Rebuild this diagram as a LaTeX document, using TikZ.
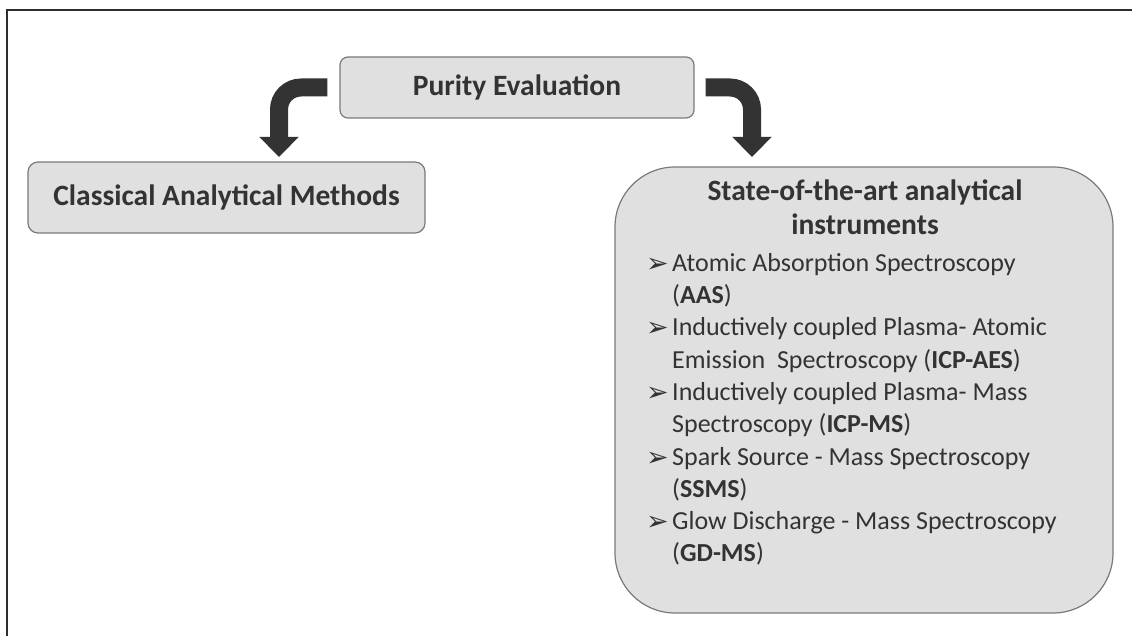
\documentclass[tikz,border=0pt]{standalone}
\usepackage{fontspec}
\setmainfont{Carlito}
\newfontfamily\dvfont{DejaVu Sans}
\usetikzlibrary{arrows.meta}
\definecolor{boxfill}{HTML}{E0E0E0}
\definecolor{boxline}{HTML}{7A7A7A}
\definecolor{txt}{HTML}{333333}
\definecolor{arrowc}{HTML}{333333}
\definecolor{framec}{HTML}{2E2E2E}
\newcommand{\bul}{\makebox[26pt][l]{\raisebox{-1pt}{\dvfont\fontsize{27}{27}\selectfont ➢}}}
\newcommand{\ind}{\hspace*{26pt}}
\begin{document}
\begin{tikzpicture}[x=1pt,y=-1pt,
  graybox/.style={draw=boxline, line width=1.2pt, fill=boxfill, text=txt, inner sep=0pt,
     font=\bfseries\fontsize{29.5}{34}\selectfont},
  bigarrow/.style={draw=arrowc, line width=18pt, rounded corners=22pt,
     -{Triangle[width=38pt,length=20pt]}},
  listtext/.style={text=txt, inner sep=0pt, align=left, font=\fontsize{26}{32.3}\selectfont},
  titletext/.style={text=txt, inner sep=0pt, align=center, font=\bfseries\fontsize{29.5}{34}\selectfont}]
\useasboundingbox (0,0) rectangle (1132,636);
\fill[white] (0,0) rectangle (1132,636);
\draw[line width=2pt, draw=framec] (7,636) -- (7,10) -- (1132,10);

\node[graybox, minimum width=354pt, minimum height=61pt, rounded corners=8pt] (pe) at (517,87.5) {Purity Evaluation};
\node[graybox, minimum width=397pt, minimum height=71pt, rounded corners=10pt] (cl) at (226.5,197.5) {Classical Analytical Methods};
\node[graybox, minimum width=498pt, minimum height=446pt, rounded corners=60pt] (rb) at (864,390) {};

\node[titletext, anchor=north] (tt) at (865,180) {State-of-the-art analytical\\instruments};
\node[listtext, anchor=north west] (ls) at (646,253) {%
\bul Atomic Absorption Spectroscopy\\
\ind(\textbf{AAS})\\
\bul Inductively coupled Plasma- Atomic\\
\ind Emission\ \ Spectroscopy (\textbf{ICP-AES})\\
\bul Inductively coupled Plasma- Mass\\
\ind Spectroscopy (\textbf{ICP-MS})\\
\bul Spark Source - Mass Spectroscopy\\
\ind(\textbf{SSMS})\\
\bul Glow Discharge - Mass Spectroscopy\\
\ind(\textbf{GD-MS})};

\coordinate (lt) at (279,157);
\coordinate (rt) at (752,157);
\draw[bigarrow] ([xshift=-12pt]pe.west) -| (lt);
\draw[bigarrow] ([xshift=11pt]pe.east) -| (rt);
\end{tikzpicture}
\end{document}
